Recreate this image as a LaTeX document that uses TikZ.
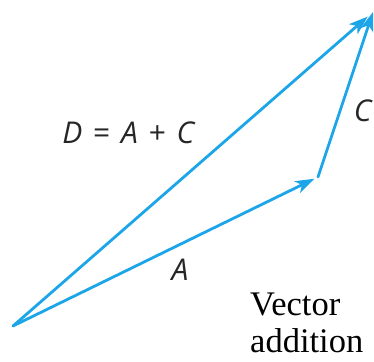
\documentclass[tikz,border=0pt]{standalone}
\usepackage{fontspec}
\setmainfont{Liberation Serif}
\newfontfamily\labelfont{Open Sans}
\usetikzlibrary{arrows.meta}
\definecolor{vecblue}{RGB}{28,165,232}
\newcommand{\gp}{\hspace{0.36em}}
\begin{document}
\begin{tikzpicture}[x=1pt,y=-1pt,
  vec/.style={draw=vecblue,line width=2.8pt,line cap=round,
    -{Stealth[length=19pt,width=13pt,inset=5pt]}},
  lbl/.style={font=\labelfont\fontsize{30}{34}\selectfont,text=black!85,inner sep=0pt},
  captext/.style={font=\fontsize{34.5}{38}\selectfont,inner sep=0pt,anchor=base west}]
\useasboundingbox (0,0) rectangle (374,361);
\coordinate (O) at (13,326);
\coordinate (P) at (318,177);
\coordinate (Q) at (373,12);
\draw[vec,shorten >=4pt] (O) -- (P);
\draw[vec] (P) -- (Q);
\draw[vec,shorten >=7pt] (O) -- (Q);
\node[lbl] (dlab) at (129,133) {\textit{D}\gp=\gp\textit{A}\gp+\gp\textit{C}};
\node[lbl] (alab) at (180,270) {\textit{A}};
\node[lbl,anchor=east] (clab) at (373,111) {\textit{C}};
\node[captext] (cap1) at (250,315) {Vector};
\node[captext] (cap2) at (250,352) {addition};
\end{tikzpicture}
\end{document}
